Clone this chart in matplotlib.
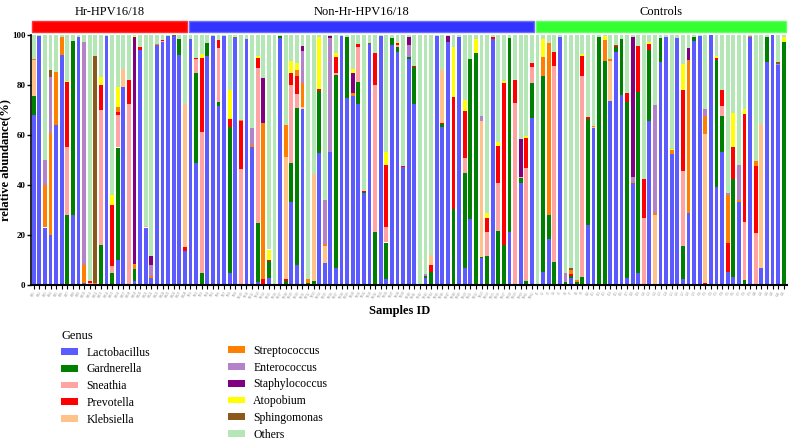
import numpy as np
import matplotlib
matplotlib.use("Agg")
import matplotlib.pyplot as plt
from matplotlib.patches import Patch, Rectangle

plt.rcParams['font.family'] = ['Liberation Serif', 'DejaVu Serif']

# groups of samples
groups = ["Hr-HPV16/18", "Non-Hr-HPV16/18", "Controls"]
group_sizes = [28, 62, 45]
group_colors = ["#ff0000", "#3333ff", "#33ff33"]
group_edges = ["#ff3333", "#6f6fff", "#66ff66"]

samples = ([f"HR{i}" for i in range(1, 29)] + [f"NH{i}" for i in range(1, 63)]
           + [f"C{i}" for i in range(1, 46)])

genus = ["Lactobacillus", "Gardnerella", "Sneathia", "Prevotella", "Klebsiella",
         "Streptococcus", "Enterococcus", "Staphylococcus", "Atopobium",
         "Sphingomonas", "Others"]
colors = ["#5b5bff", "#008000", "#ffa3a3", "#ff0000", "#ffc38a",
          "#ff8000", "#b482c8", "#800080", "#ffff00", "#8b5a1a", "#b5e6b5"]

# relative abundance (%) per genus: Hr-HPV16/18 | Non-Hr-HPV16/18 | Controls
lactobacillus = [
    68, 99.5, 23, 20, 64, 92, 0, 28, 99, 1, 0, 0, 0, 99.5, 0, 10, 79, 0, 1.5, 94, 23, 3, 96, 97, 99.5, 99.5, 92, 13.5,
    98.3, 48.7, 0, 91.6, 99.7, 71.6, 99.7, 4.7, 99, 0,
    98.5, 55.3, 1.3, 0, 2.7, 0, 98.7, 0.5, 33.3, 8,
    70.4, 0, 0, 52.7, 8.7, 53.3, 6.7, 99.7, 74.7, 75.6,
    72.4, 36.7, 96.4, 0, 99.7, 2.3, 96, 93.3, 47.1, 90.3,
    72.4, 0, 3, 0, 99.7, 63, 97.3, 0, 99.3, 6.7,
    26.3, 0, 10.7, 0, 98.3, 0, 0, 21.3, 0, 40.7,
    0, 66.7,
    0, 5.3, 18.3, 0, 99, 0, 3, 0, 0, 24,
    62.7, 0, 0, 73.7, 93.3, 76, 2.7, 40.7, 4.7, 0,
    65.6, 0, 89.3, 99, 52.4, 98.7, 2.3, 28.7, 97.7, 99.6,
    0, 99.8, 39.3, 53.3, 5.3, 3.3, 33.3, 0, 99, 0,
    7, 89.3, 100, 88, 0]
gardnerella = [
    7.7, 0, 0, 0, 0, 0, 28, 69.5, 0, 0, 0, 0, 16, 0, 5, 45, 0, 0, 5, 0, 0, 0, 0, 0, 0, 0, 6.5, 0,
    0, 36, 4.7, 5.1, 0, 1.7, 0, 58.6, 0, 0,
    0, 0, 23.6, 0, 7, 0, 0.9, 1, 15.6, 62.9,
    0, 1, 1.5, 24.9, 0, 0, 77.3, 0, 24.6, 0,
    8.9, 0.4, 0, 21.3, 0, 14.7, 2.7, 2, 0, 0.7,
    14.6, 0, 0.5, 5.3, 0, 1.2, 0, 30.3, 0, 38.2,
    64, 92.7, 0.6, 11.6, 0, 21.6, 16, 77.4, 0, 2,
    1.7, 14.2,
    0, 78.4, 9.7, 9.3, 0, 1.3, 0.5, 1.3, 3.3, 42.3,
    0, 99, 89.7, 0, 1.7, 22.4, 70.6, 0, 72.3, 0,
    28.4, 0, 9.4, 0, 0, 0, 13.3, 0, 1.6, 0,
    0, 0, 50.7, 14.3, 0, 39, 0, 2, 0, 0,
    0, 10, 0, 0, 97.3]
sneathia = [
    0, 0, 0, 0, 0, 0, 27, 0, 0, 0, 0.8, 0, 54, 0, 2.5, 13, 0, 72.5, 0, 0, 0.5, 0, 0, 0.5, 0, 0, 0, 0,
    0, 5.6, 56.6, 0, 0, 21.4, 0, 0, 0, 46.3,
    0, 0, 61.8, 0, 0, 0, 0, 0, 31.1, 5.4,
    0, 0, 0, 0, 0, 0, 0.9, 0, 0, 0,
    14, 0, 0, 58.7, 0, 6, 0, 0.7, 0, 0,
    0, 0, 0, 0, 0, 0, 0, 0, 0, 5.8,
    0, 0, 0, 9.7, 0, 19.1, 0, 0, 72.9, 0.5,
    45, 6.1,
    0, 0, 0, 78.3, 0, 0, 0, 0, 80.3, 0,
    0, 0, 0, 0, 0, 0, 0, 0, 0, 26.7,
    0, 0, 0, 0, 0, 0, 30.1, 0, 0, 0,
    0, 0, 0, 4, 0, 0, 0, 23.3, 0, 20.9,
    0, 0, 0, 0, 0]
prevotella = [
    0, 0, 0, 0, 0, 0, 26, 0, 0, 0, 1, 0, 10, 0, 24.5, 1, 0, 9.5, 0, 1, 0, 0, 0, 0.5, 0, 0, 0, 1.5,
    0, 0.4, 29.4, 0, 0, 3.3, 0, 3, 0, 19.4,
    0, 0, 4, 2.3, 0.5, 0, 0, 1, 4.9, 7.4,
    0, 0, 0, 0.7, 0, 0, 6.1, 0, 0, 0,
    1.1, 0.4, 0, 12.7, 0, 25, 0, 0.6, 0.5, 0,
    0.5, 0, 0, 2.7, 0, 0.6, 0, 45, 0, 19,
    0, 0, 0, 5.4, 0.8, 14.9, 64.7, 0, 9.1, 0,
    12, 1.7,
    0, 0, 0, 5.7, 0, 0, 1, 0, 8, 1,
    0, 0, 0, 0, 0.5, 0, 3.4, 0, 18.7, 15.6,
    2.3, 0, 0, 0, 0, 0, 32.3, 0, 0, 0,
    1, 0, 0.7, 6.4, 11.6, 13, 0, 43.1, 0, 26.7,
    0, 0, 0, 0, 0]
klebsiella = [
    14.3, 0, 0, 0, 0, 0, 0, 0, 0, 0, 0, 0, 0, 0, 0, 0, 7.5, 0, 0, 0, 0, 0, 0, 0, 0, 0, 0, 57.5,
    0, 0, 0, 0, 0, 0, 0, 0, 0, 0,
    0, 0, 0, 0, 0, 0, 0, 48.6, 0, 0,
    0.7, 0, 42.8, 0, 7, 0, 0, 0, 0, 0,
    0, 0, 0, 0, 0, 0, 0, 0, 0, 0,
    0, 0, 0, 4, 0, 21.3, 0, 0, 0, 0,
    0, 0, 54.4, 0, 0, 0, 0, 0, 0, 0,
    0, 0,
    0, 0, 0, 0, 0, 0, 0, 0, 0, 0,
    0.5, 0, 0, 16, 0, 0, 0, 0, 0, 0,
    0, 28, 0, 0, 0, 0, 0, 0, 0, 0,
    59.4, 0, 0, 0, 0, 0, 0, 0, 0, 0,
    57.4, 0, 0, 0, 0]
streptococcus = [
    0.5, 0, 17, 40.7, 21, 7, 0, 0, 0, 7, 0, 1, 0, 0, 0, 2, 0, 0, 2, 0, 0, 0.5, 0.5, 0, 0, 0, 0, 0,
    0, 0, 0, 0, 0, 0, 0, 0, 0, 0.4,
    0, 0.7, 0, 62.6, 0, 0, 0, 12.7, 0, 2.3,
    9.6, 1.5, 0, 0, 0.8, 0, 0, 0, 0, 1,
    0, 0, 0, 0, 0, 0, 0, 0, 0, 0,
    0, 0.3, 0, 0, 0, 0, 0, 0, 0, 0,
    0, 0, 0, 0, 0, 0, 0, 0, 0, 0,
    0, 0,
    0.5, 7.6, 68.7, 0, 0, 0, 1.5, 0.7, 0, 0,
    0.5, 0, 8.3, 0.5, 0, 0, 0, 0.6, 0, 0,
    0, 0.7, 0, 0, 1.6, 0, 0, 61.3, 0, 0,
    7.3, 0, 0, 0, 19.1, 0, 0.7, 0, 0.7, 2.1,
    0, 0, 0, 0, 0]
enterococcus = [
    0, 0, 10, 22.3, 0, 0, 0, 0, 0, 89, 0, 0, 0, 0, 0, 0, 0, 0, 0, 0, 0, 4.5, 0, 0, 0, 0, 0, 0,
    0, 0, 0, 0, 0, 0, 0, 0, 0, 0,
    0, 6.7, 0, 0, 0, 0, 0, 0, 0, 0,
    13, 0, 0, 0, 17.3, 45.6, 0, 0, 0, 0,
    0, 0, 0, 0, 0, 0, 0, 0, 0, 5,
    0, 0, 1, 0, 0, 0, 0, 0, 0, 0,
    0, 0, 1.9, 0, 0, 0, 0, 0, 0, 0,
    0, 0,
    0, 0, 0, 0, 0, 3.4, 0, 0, 0, 0,
    0, 0, 0, 0, 0, 0, 0, 2, 0, 0,
    0, 43.3, 0, 0, 0, 0, 0, 0, 0, 0,
    2.7, 0, 0, 0, 0.7, 0, 14, 0, 0, 0,
    0, 0, 0, 0.5, 0]
staphylococcus = [
    0, 0, 0, 0, 0, 0, 0, 0, 0, 0, 0, 0, 0, 0, 0, 0, 0, 0, 90.5, 0, 0, 3.5, 0, 0, 0, 0, 0, 0,
    0, 0, 0, 0, 0, 0, 0, 0, 0, 0,
    0, 0, 0, 18, 0, 0, 0, 0, 0, 0,
    2, 0, 0, 0, 0, 0.7, 0, 0, 0, 8.2,
    0, 0, 0, 0, 0, 0, 0, 0, 0, 3.3,
    0, 0, 0, 0, 0, 0, 2.4, 0, 0, 0,
    0, 0, 0, 0, 0, 0, 0, 0, 0, 15,
    0, 0,
    0, 0, 0, 0, 0, 0, 0, 0, 0, 0,
    0, 0, 0, 0, 0, 0, 0, 55.7, 0, 0,
    0, 0, 0, 0, 0, 0, 0, 4.7, 0, 0,
    0, 0, 0, 0, 0, 0, 0, 0, 0, 0,
    0, 0, 0, 0, 0]
atopobium = [
    0, 0, 0, 0, 0, 0, 0.7, 0, 0, 0, 0, 0, 3, 0, 4, 8, 0, 0, 0.7, 0, 0, 0, 0, 0, 0, 0, 0, 0,
    0, 0, 1.7, 0, 0, 0, 0, 11.7, 0.5, 0,
    0, 0, 0.9, 0, 4, 0, 0, 0, 4.8, 2.7,
    0, 0, 0, 21, 0, 0, 1.7, 0, 0, 1.4,
    0, 0, 0, 0, 0, 5.3, 0, 0.7, 0, 0,
    0, 0, 0, 0, 0, 0, 0, 20, 0, 4.3,
    0, 5.7, 0, 2, 0, 1.7, 0.9, 0, 0, 0,
    0.7, 0,
    0, 7, 0, 0, 0, 0, 0, 0, 0.8, 0,
    0, 0, 1.7, 0, 0, 0, 0, 0, 0, 0,
    0.7, 0, 0, 0, 0.5, 0, 10.4, 0, 0, 0,
    0, 0, 0.7, 0, 0, 13.4, 0, 1.9, 0, 0,
    0, 0, 0, 0, 1.7]
sphingomonas = [
    0, 0, 0, 3, 0, 0, 0, 0, 0, 0, 0, 90.5, 0, 0, 0, 0, 0, 0, 0, 0, 0, 0, 0, 0, 0, 0.3, 0, 0,
    0, 0, 0, 0, 0, 0, 0, 0, 0, 0,
    0, 0, 0, 0, 0, 0.5, 0, 0, 0, 0,
    0, 0, 0, 0, 0, 0, 0, 0, 0, 0,
    0, 0, 0.4, 0, 0, 0, 0, 0, 0, 0,
    0, 0, 0, 0, 0, 0, 0, 0, 0, 0,
    0, 0, 0, 0, 0, 0, 0, 0, 0, 0,
    0, 0,
    0, 0, 0, 0, 0, 0, 0.8, 0, 0, 0,
    0, 0, 0, 0, 0.5, 0, 0, 0, 0, 0,
    0, 0, 0, 0, 0, 0, 0, 0, 0, 0,
    0, 0, 0, 0, 0, 0, 0, 0, 0, 0,
    0, 0, 0, 0.5, 0]

series = [lactobacillus, gardnerella, sneathia, prevotella, klebsiella,
          streptococcus, enterococcus, staphylococcus, atopobium, sphingomonas]
data = np.array(series, dtype=float)
others = 100 - data.sum(axis=0)
data = np.vstack([data, others])

fig = plt.figure(figsize=(7.91, 4.40), dpi=100)
ax = fig.add_axes([31 / 791, 1 - 285 / 440, 755.5 / 791, 250 / 440])

x = np.arange(len(samples))
bottom = np.zeros(len(samples))
for vals, col, name in zip(data, colors, genus):
    ax.bar(x, vals, bottom=bottom, width=0.68, color=col, linewidth=0, label=name)
    bottom += vals

ax.set_xlim(-0.5, len(samples) - 0.5)
ax.set_ylim(0, 100)
ax.set_yticks([0, 20, 40, 60, 80, 100])
ax.tick_params(axis='y', labelsize=6.5, length=3, width=1, pad=1)
for t in ax.get_yticklabels():
    t.set_fontweight('bold')
ax.set_xticks(x)
ax.set_xticklabels(samples, rotation=60, fontsize=2.2, color='#888888')
ax.tick_params(axis='x', length=3, width=0.8, pad=1)
for s in ['top', 'right']:
    ax.spines[s].set_visible(False)
ax.spines['left'].set_linewidth(1.2)
ax.spines['bottom'].set_linewidth(1.5)
ax.set_ylabel('relative abundance(%)', fontsize=9, fontweight='bold')
ax.yaxis.set_label_coords(-0.026, 0.5)

# group header bars
start = 0
for name, n, fc, ec in zip(groups, group_sizes, group_colors, group_edges):
    left = start - 0.34
    right = start + n - 1 + 0.34
    ax.add_patch(Rectangle((left, 1.012), right - left, 0.044, facecolor=fc, edgecolor=ec,
                           linewidth=1, transform=ax.get_xaxis_transform(), clip_on=False))
    ax.text((left + right) / 2, 1.09, name, ha='center', va='center', fontsize=9,
            transform=ax.get_xaxis_transform())
    start += n

fig.text(400 / 791, 1 - 311 / 440, 'Samples ID', ha='center', va='center',
         fontsize=9, fontweight='bold')

# legend in two columns
handles = [Patch(facecolor=c, edgecolor='none') for c in colors]
fig.legend(handles[:5], genus[:5], title='Genus', loc='upper left',
           bbox_to_anchor=(61 / 791, 1 - 330 / 440), frameon=False, fontsize=8.5,
           title_fontsize=9, handlelength=1.4, handleheight=0.5,
           handletextpad=0.75, labelspacing=0.4, borderpad=0, borderaxespad=0,
           alignment='left')
fig.legend(handles[5:], genus[5:], loc='upper left',
           bbox_to_anchor=(228 / 791, 1 - 345 / 440), frameon=False, fontsize=8.5,
           handlelength=1.4, handleheight=0.5, handletextpad=0.75,
           labelspacing=0.4, borderpad=0, borderaxespad=0)

fig.savefig('out.png', dpi=100)
